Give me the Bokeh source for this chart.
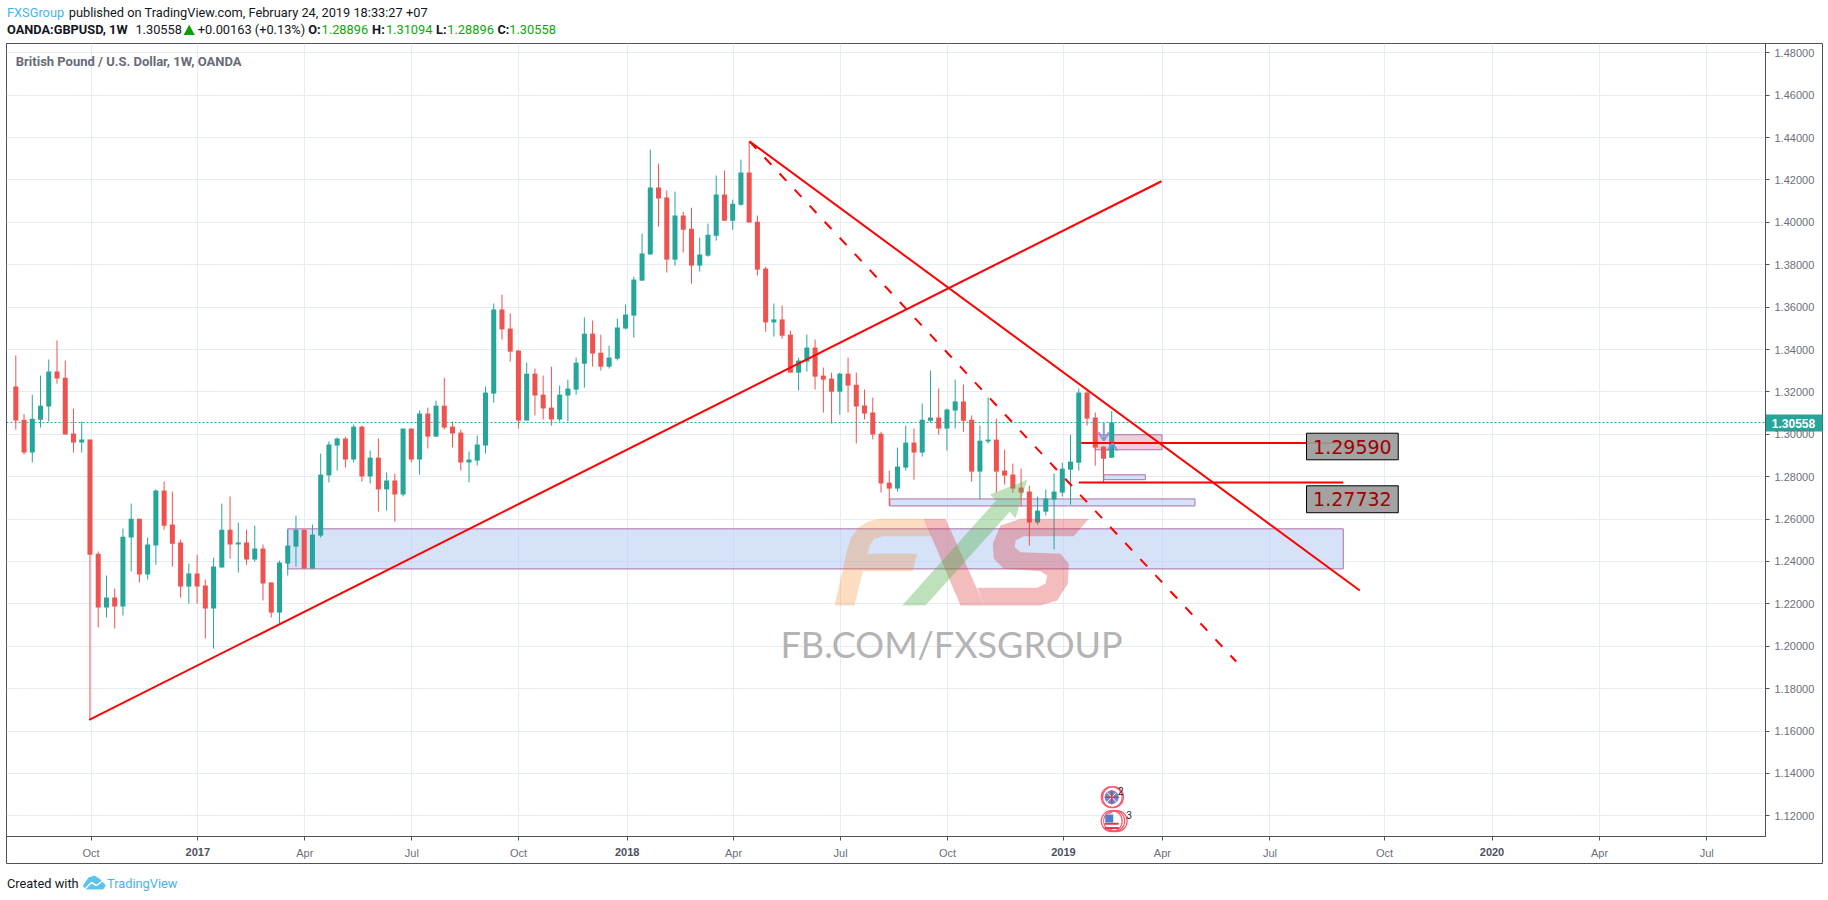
from bokeh.plotting import figure
from bokeh.models import Range1d, FixedTicker, NumeralTickFormatter, Label, Span, LinearAxis
from bokeh.embed import file_html
from bokeh.resources import INLINE
from bokeh.core.properties import value

opens = [1.3225,1.3069,1.2914,1.3069,1.3131,1.3296,1.3267,1.3004,1.2961,1.2975,
 1.2437,1.2183,1.2230,1.2188,1.2513,1.2602,1.2338,1.2475,1.2735,1.2574,
 1.2489,1.2282,1.2343,1.2287,1.2178,1.2371,1.2550,1.2480,1.2489,1.2409,
 1.2461,1.2301,1.2159,1.2390,1.2470,1.2550,1.2367,1.2522,1.2806,1.2947,
 1.2980,1.2881,1.3036,1.2801,1.2890,1.2740,1.2782,1.2716,1.3027,1.2881,
 1.3098,1.2989,1.3135,1.3036,1.3008,1.2867,1.2876,1.2947,1.3192,1.3589,
 1.3499,1.3395,1.3065,1.3286,1.3187,1.3126,1.3070,1.3183,1.3211,1.3333,
 1.3475,1.3385,1.3319,1.3357,1.3499,1.3560,1.3725,1.3848,1.4164,1.4117,
 1.3824,1.4032,1.3970,1.3796,1.3843,1.3937,1.4131,1.4008,1.4083,1.4235,
 1.4003,1.3782,1.3528,1.3542,1.3470,1.3291,1.3343,1.3409,1.3277,1.3263,
 1.3201,1.3286,1.3234,1.3136,1.3103,1.3003,1.2772,1.2744,1.2843,1.2961,
 1.2914,1.3064,1.3079,1.3027,1.3112,1.3155,1.3069,1.2824,1.2966,1.2975,
 1.2829,1.2810,1.2749,1.2730,1.2584,1.2635,1.2692,1.2725,1.2833,1.2866,
 1.3197,1.3079,1.2942,1.28896]
highs = [1.3372,1.3096,1.3187,1.3277,1.3353,1.3443,1.3348,1.3121,1.3060,1.2975,
 1.2447,1.2334,1.2272,1.2555,1.2673,1.2602,1.2513,1.2740,1.2777,1.2730,
 1.2503,1.2390,1.2432,1.2315,1.2418,1.2673,1.2707,1.2583,1.2550,1.2569,
 1.2480,1.2301,1.2404,1.2550,1.2616,1.2550,1.2574,1.2909,1.2966,1.2985,
 1.2989,1.3046,1.3041,1.2923,1.2980,1.2820,1.2815,1.3027,1.3027,1.3112,
 1.3126,1.3159,1.3267,1.3060,1.3022,1.2919,1.2994,1.3225,1.3617,1.3659,
 1.3570,1.3399,1.3338,1.3310,1.3277,1.3319,1.3230,1.3258,1.3362,1.3551,
 1.3537,1.3470,1.3418,1.3546,1.3612,1.3744,1.3947,1.4343,1.4277,1.4150,
 1.4145,1.4050,1.4069,1.3928,1.3994,1.4221,1.4245,1.4107,1.4296,1.4381,
 1.4032,1.3791,1.3617,1.3608,1.3489,1.3362,1.3470,1.3447,1.3315,1.3291,
 1.3291,1.3362,1.3291,1.3211,1.3173,1.3012,1.2829,1.2937,1.3041,1.3027,
 1.3145,1.3301,1.3216,1.3122,1.3258,1.3235,1.3089,1.3041,1.3174,1.3074,
 1.2928,1.2862,1.2838,1.2758,1.2706,1.2739,1.2815,1.2866,1.2998,1.3216,
 1.3206,1.3103,1.2942,1.31094]
lows = [1.3022,1.2904,1.2867,1.3032,1.3060,1.3239,1.2999,1.2914,1.2914,1.1654,
 1.2089,1.2136,1.2084,1.2145,1.2353,1.2301,1.2315,1.2385,1.2550,1.2376,
 1.2230,1.2202,1.2202,1.2036,1.1989,1.2371,1.2413,1.2348,1.2385,1.2399,
 1.2216,1.2136,1.2106,1.2334,1.2376,1.2367,1.2367,1.2513,1.2773,1.2829,
 1.2843,1.2867,1.2777,1.2768,1.2635,1.2640,1.2588,1.2707,1.2867,1.2810,
 1.2933,1.2989,1.3022,1.2938,1.2829,1.2773,1.2853,1.2909,1.3150,1.3447,
 1.3343,1.3027,1.3065,1.3089,1.3070,1.3041,1.3060,1.3060,1.3187,1.3220,
 1.3319,1.3301,1.3310,1.3348,1.3495,1.3456,1.3725,1.3848,1.3980,1.3763,
 1.3796,1.3857,1.3711,1.3768,1.3838,1.3914,1.4008,1.3965,1.4079,1.3999,
 1.3749,1.3484,1.3461,1.3451,1.3291,1.3206,1.3296,1.3211,1.3103,1.3051,
 1.3093,1.3103,1.2957,1.3070,1.2976,1.2725,1.2662,1.2730,1.2829,1.2786,
 1.2895,1.3055,1.2998,1.2923,1.3027,1.3012,1.2777,1.2695,1.2956,1.2725,
 1.2763,1.2725,1.2659,1.2475,1.2574,1.2617,1.2457,1.2706,1.2668,1.2829,
 1.3041,1.2852,1.2772,1.28896]
closes = [1.3065,1.2914,1.3074,1.3135,1.3296,1.3263,1.2999,1.2961,1.2975,1.2432,
 1.2183,1.2230,1.2188,1.2517,1.2602,1.2338,1.2480,1.2735,1.2569,1.2484,
 1.2282,1.2343,1.2282,1.2178,1.2376,1.2550,1.2480,1.2489,1.2409,1.2461,
 1.2296,1.2159,1.2395,1.2475,1.2550,1.2367,1.2527,1.2810,1.2952,1.2980,
 1.2881,1.3036,1.2801,1.2890,1.2740,1.2782,1.2716,1.3027,1.2881,1.3098,
 1.2989,1.3135,1.3032,1.3004,1.2867,1.2881,1.2952,1.3197,1.3589,1.3495,
 1.3390,1.3065,1.3286,1.3183,1.3122,1.3070,1.3187,1.3216,1.3338,1.3475,
 1.3381,1.3319,1.3362,1.3504,1.3565,1.3730,1.3853,1.4164,1.4112,1.3824,
 1.4032,1.3965,1.3796,1.3848,1.3942,1.4131,1.4008,1.4088,1.4235,1.3999,
 1.3777,1.3528,1.3542,1.3465,1.3291,1.3348,1.3409,1.3272,1.3258,1.3201,
 1.3286,1.3230,1.3131,1.3098,1.2999,1.2768,1.2744,1.2848,1.2961,1.2914,
 1.3069,1.3079,1.3027,1.3117,1.3155,1.3064,1.2824,1.2970,1.2975,1.2824,
 1.2805,1.2744,1.2725,1.2584,1.2640,1.2697,1.2730,1.2838,1.2871,1.3197,
 1.3074,1.2937,1.2885,1.30558]

price_ticks = [1.12,1.14,1.16,1.18,1.20,1.22,1.24,1.26,1.28,1.30,1.32,1.34,1.36,1.38,1.40,1.42,1.44,1.46,1.48]
time_ticks = [9.14,22.09,35.07,48.06,61.0,74.2,87.1,100.1,113.07,127.14,139.15,152.2,166.1,179.15,192.2,205.2]
time_labels = ["Oct","2017","Apr","Jul","Oct","2018","Apr","Jul","Oct","2019","Apr","Jul","Oct","2020","Apr","Jul"]
last_price = 1.30558

rise_x, rise_y = [8.9, 139.04], [1.1653, 1.4194]
fall_x, fall_y = [89.04, 163.1], [1.4382, 1.2263]
dash_x, dash_y = [89.04, 148.1], [1.4382, 1.1928]
level_a_x, level_a = [129.3, 161.1], 1.29590
level_b_x, level_b = [129.0, 161.1], 1.27732
zone_left = [33.0, 106.07, 131.0, 132.04]
zone_right = [161.1, 143.1, 139.1, 137.07]
zone_top = [1.2554, 1.2695, 1.2998, 1.2809]
zone_bottom = [1.2365, 1.2662, 1.2927, 1.2786]
zone_fill = ["#b5cbf2", "#b5cbf2", "#e0a8c0", "#b5cbf2"]
tag_left, tag_right = 156.64, 167.77
tag_top = [1.30052, 1.2757]
tag_bottom = [1.28797, 1.2630]
tag_text = ["1.29590", "1.27732"]
arrow_down_x = [[132.04, 132.04], [131.4, 132.04, 132.65]]
arrow_down_y = [[1.3054, 1.2970], [1.3010, 1.2970, 1.3010]]
arrow_up_x = [[132.45, 133.1, 133.7]]
arrow_up_y = [[1.2923, 1.2958, 1.2923]]

# watermark outlines, in its own local units (3 units = 1 px), anchored in the chart
logo_anchor_x, logo_anchor_y = 92.8, 1.26877
logo_f_x = [162,200,212,235,265,300,432,455,310,280,268,260,410,397,247,222]
logo_f_y = [315,150,110,80,62,55,55,107,107,115,135,160,160,212,212,315]
logo_v_x = [430,495,612,540]
logo_v_y = [55,55,315,315]
logo_s_x = [925,720,660,637,640,670,780,800,795,770,590,612,780,830,862,865,840,720,703,705,730,880]
logo_s_y = [55,55,75,130,175,205,212,225,250,262,262,315,315,300,250,190,160,155,140,120,107,107]
logo_a_x = [365,647,628,740,705,688,435]
logo_a_y = [315,0,-18,-62,53,34,315]

DARK = "#4c525e"
AXTXT = "#6b6f7a"
UP, DOWN = "#26a69a", "#ef5350"
GREEN = "#0aa80a"
BLUE = "#45b4ea"
BLACK = "#131722"
HEAD = 12.8

# ---- page layer: the header, footer, outer frame and price tag, in window pixels
page = figure(width=1828, height=900, x_range=Range1d(0, 1828), y_range=Range1d(900, 0),
              output_backend="svg", toolbar_location=None, x_axis_location=None, y_axis_location=None,
              min_border=0)
page.grid.visible = False
page.outline_line_color = None
page.background_fill_color = "white"
page.border_fill_color = "white"

def txt(x, y, s, color=BLACK, size=HEAD, font="Roboto", style="normal", align="left"):
    page.text(x=[x], y=[y], text=[s], text_color=color, text_font=value(font), text_font_size=f"{size}px",
              text_font_style=style, text_align=align, text_baseline="middle")

page.quad(left=[6], right=[1822], top=[43], bottom=[863], fill_color="white", line_color=DARK, line_width=1)
page.quad(left=[1764.5], right=[1822], top=[414], bottom=[431], fill_color=UP, line_color=None)
txt(1793, 422.5, "1.30558", "white", 12, "Liberation Sans", "bold", "center")

txt(6.5, 12.3, "FXSGroup", BLUE)
txt(68.2, 12.3, "published on TradingView.com, February 24, 2019 18:33:27 +07")
txt(6.5, 29.3, "OANDA:GBPUSD, 1W", style="bold")
txt(134.9, 29.3, "1.30558")
page.patch([183.1, 194.3, 188.7], [34.5, 34.5, 24.3], fill_color="#0a9e0a", line_color=None)
txt(197.3, 29.3, "+0.00163 (+0.13%)")
for x0, lab, x1, val in [(307.7, "O:", 321.1, "1.28896"), (371.6, "H:", 385.4, "1.31094"),
                         (435.6, "L:", 446.8, "1.28896"), (496.9, "C:", 508.8, "1.30558")]:
    txt(x0, 29.3, lab, style="bold")
    txt(x1, 29.3, val, GREEN)

txt(6.5, 882.5, "Created with")
page.patch([82.4, 88, 94, 100, 105.4, 102.5, 84.7], [885, 877, 875, 879, 885, 889, 889], fill_color="#5ec3ea", line_color=None)
page.line([84, 91, 96, 104], [889, 882, 885, 879], line_color="white", line_width=1.5)
txt(106.5, 882.5, "TradingView", BLUE)

# ---- chart layer
p = figure(width=1826, height=892, x_range=Range1d(-1.129, 212.34), y_range=Range1d(1.11024, 1.48439),
           output_backend="svg", toolbar_location=None, y_axis_location="right",
           min_border_left=6, min_border_right=61, min_border_top=43, min_border_bottom=56,
           margin=(-900, 0, 0, 0))
p.outline_line_color = DARK
p.outline_line_width = 1
p.background_fill_color = None
p.border_fill_color = None

p.xaxis.ticker = FixedTicker(ticks=time_ticks)
p.xaxis.major_label_overrides = {t: ("" if l.isdigit() else l) for t, l in zip(time_ticks, time_labels)}
p.yaxis.ticker = FixedTicker(ticks=price_ticks)
p.yaxis.formatter = NumeralTickFormatter(format="0.00000")
for ax in (p.xaxis[0], p.yaxis[0]):
    ax.axis_line_color = DARK
    ax.major_tick_line_color = DARK
    ax.major_tick_in = 0
    ax.major_tick_out = 4
    ax.minor_tick_line_color = None
    ax.major_label_text_font = "Liberation Sans"
    ax.major_label_text_font_size = "11px"
    ax.major_label_text_color = AXTXT
    ax.major_label_standoff = 5
p.xaxis.major_label_standoff = 6
for g in (p.xgrid[0], p.ygrid[0]):
    g.grid_line_color = "#e5edf3"
    g.grid_line_width = 1

# bold year labels on an axis of their own
year_ticks = [t for t, l in zip(time_ticks, time_labels) if l.isdigit()]
year_axis = LinearAxis(ticker=FixedTicker(ticks=year_ticks),
                       major_label_overrides={t: l for t, l in zip(time_ticks, time_labels) if l.isdigit()},
                       axis_line_color=None, major_tick_line_color=None, minor_tick_line_color=None,
                       major_label_text_font="Liberation Sans", major_label_text_font_size="11px",
                       major_label_text_font_style="bold", major_label_text_color=DARK,
                       major_label_standoff=-14, major_tick_in=0, major_tick_out=0)
p.add_layout(year_axis, "below")

p.add_layout(Span(location=last_price, dimension="width", line_color=UP, line_width=1, line_dash="2 2", level="underlay"))

p.quad(left=zone_left, right=zone_right, top=zone_top, bottom=zone_bottom, fill_color=zone_fill,
       fill_alpha=0.55, line_color="#b06fa8", line_width=1)

weeks = list(range(len(opens)))
colors = [UP if c >= o else DOWN for o, c in zip(opens, closes)]
p.segment(x0=weeks, x1=weeks, y0=lows, y1=highs, line_color=colors, line_width=1)
p.vbar(x=weeks, width=0.61, top=[max(a, b) for a, b in zip(opens, closes)],
       bottom=[min(a, b) for a, b in zip(opens, closes)], fill_color=colors, line_color=None)

p.line(rise_x, rise_y, line_color="#ff0000", line_width=2)
p.line(fall_x, fall_y, line_color="#ff0000", line_width=2)
p.line(dash_x, dash_y, line_color="#ff0000", line_width=2, line_dash="10 12")
p.line(level_a_x, [level_a, level_a], line_color="#ff0000", line_width=2)
p.line(level_b_x, [level_b, level_b], line_color="#ff0000", line_width=2)
p.multi_line(arrow_down_x, arrow_down_y, line_color="#7f93d3", line_width=2, line_alpha=0.9)
p.multi_line(arrow_up_x, arrow_up_y, line_color="#7f93d3", line_width=2, line_alpha=0.9)

p.quad(left=[tag_left]*2, right=[tag_right]*2, top=tag_top, bottom=tag_bottom, fill_color="#9c9c9c",
       fill_alpha=0.93, line_color="#000000", line_width=1)
p.text(x=[(tag_left+tag_right)/2]*2, y=[(a+b)/2 for a, b in zip(tag_top, tag_bottom)], text=tag_text,
       text_font=value("DejaVu Sans"), text_font_size="19px", text_color="#a00000",
       text_align="center", text_baseline="middle")

def lx(v):
    return [logo_anchor_x + a / 3 / 8.24 for a in v]
def ly(v):
    return [logo_anchor_y - a / 3 / 2119.5 for a in v]
p.patch(lx(logo_f_x), ly(logo_f_y), fill_color="#f5821f", fill_alpha=0.27, line_color=None)
p.patch(lx(logo_v_x), ly(logo_v_y), fill_color="#dd3333", fill_alpha=0.32, line_color=None)
p.patch(lx(logo_s_x), ly(logo_s_y), fill_color="#dd3333", fill_alpha=0.32, line_color=None)
p.patch(lx(logo_a_x), ly(logo_a_y), fill_color="#55b04d", fill_alpha=0.38, line_color=None)

uk_y, us_y = 1.1288, 1.1175
p.scatter([133, 133.15], [uk_y, uk_y], size=21, fill_color=None, line_color="#f7596e", line_width=1.2)
p.scatter([133], [uk_y], size=14, fill_color="#6f86c8", line_color=None)
p.scatter([133], [uk_y], size=13, marker="x", line_color="white", line_width=1)
p.scatter([133], [uk_y], size=14, marker="cross", line_color="#e0394f", line_width=1.5)
p.scatter([133, 133.3, 133.6], [us_y, us_y, us_y], size=21, fill_color=None, line_color="#f7596e", line_width=1.2)
p.scatter([133], [us_y], size=15, fill_color="white", line_color=None)
p.scatter([133, 133], [us_y-0.0012, us_y-0.0032], size=14, marker="dash", line_color="#e0394f", line_width=2)
p.scatter([132.7], [us_y+0.0012], size=8, marker="square", fill_color="#4a7fd0", line_color=None)
p.text(x=[134.1, 135.1], y=[1.1319, 1.1206], text=["2", "3"], text_font=value("Liberation Sans"),
       text_font_size="10px", text_color="#222222", text_align="center", text_baseline="middle")

p.add_layout(Label(x=15.3, y=60.5, x_units="canvas", y_units="canvas", text="British Pound / U.S. Dollar, 1W, OANDA",
                   text_color="#666b77", text_font="Roboto", text_font_size="13px", text_font_style="bold",
                   text_baseline="middle"))
p.add_layout(Label(x=780, y=643, x_units="canvas", y_units="canvas", text="FB.COM/FXSGROUP",
                   text_color="#b4b4b4", text_font="Lato", text_font_size="36px", text_baseline="middle"))

open("out.html", "w").write(file_html((page, p), INLINE))
